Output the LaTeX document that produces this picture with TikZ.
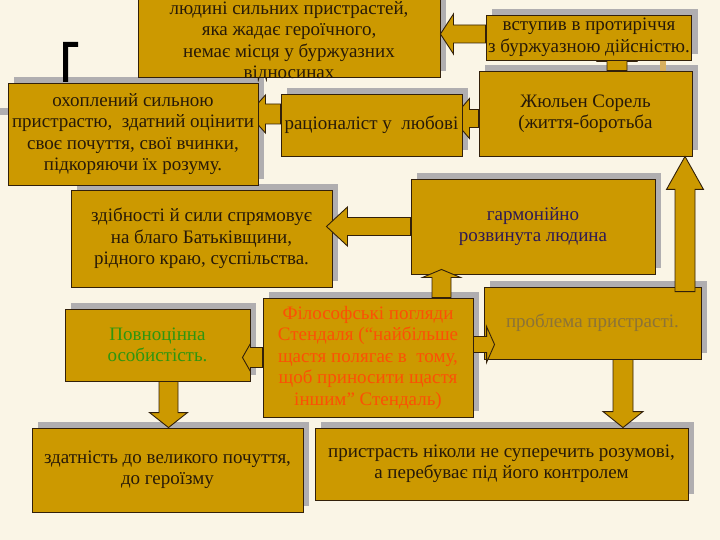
\documentclass[tikz,border=0pt]{standalone}
\usepackage{fontspec}
\setmainfont{Liberation Serif}
\usetikzlibrary{calc}
\definecolor{paper}{RGB}{250,245,230}
\definecolor{gold}{RGB}{204,153,0}
\definecolor{edge}{RGB}{50,32,10}
\definecolor{shade}{RGB}{176,174,176}
\definecolor{ink}{RGB}{40,26,8}
\definecolor{inkgreen}{RGB}{45,150,15}
\definecolor{inkorange}{RGB}{252,80,5}
\definecolor{inkmuted}{RGB}{140,115,55}
\definecolor{inkviolet}{RGB}{45,25,85}
\definecolor{tan}{RGB}{215,175,95}
\pgfdeclarelayer{shadowlayer}
\pgfdeclarelayer{underlayer}
\pgfsetlayers{shadowlayer,underlayer,main}
\tikzset{
  sorelfont/.style={font=\fontsize{19}{21.5}\selectfont},
  sorelbox/.style={draw=edge, fill=gold, line width=0.9pt, align=center, inner sep=2pt, text=ink, sorelfont},
  sorelshadow/.style={fill=shade},
  sorelarrow/.style={draw=edge, fill=gold, line width=0.9pt, line join=miter}
}
% block arrow: [options]{tail}{tip}{half shaft}{half head}{head length}
\newcommand{\blockarrow}[6][]{%
  \path ($(#3)!#6!(#2)$) coordinate (hb);
  \draw[sorelarrow,#1] ($(#2)!#4!90:(#3)$) -- ($(hb)!#4!90:(#3)$) -- ($(hb)!#5!90:(#3)$) -- (#3)
    -- ($(hb)!#5!-90:(#3)$) -- ($(hb)!#4!-90:(#3)$) -- ($(#2)!#4!-90:(#3)$) -- cycle;}
\begin{document}
\begin{tikzpicture}[x=1pt,y=-1pt]
\useasboundingbox (0,0) rectangle (720,540);

% boxes
\node[sorelbox, minimum width=302pt, minimum height=82pt,
  label={[align=center, sorelfont, text=ink, yshift=-6pt]center:{людині сильних пристрастей,\\яка жадає героїчного,\\немає місця у буржуазних\\відносинах}}] (top) at (289,36) {};
\node[sorelbox, minimum width=198pt, minimum height=45pt] (vstup) at (589,37.5) {вступив в протиріччя\\з буржуазною дійсністю.};
\node[sorelbox, minimum width=213pt, minimum height=85pt] (zhul) at (585.5,113.5) {Жюльен Сорель\\(життя-боротьба};
\node[sorelbox, minimum width=250pt, minimum height=102pt] (ohopl) at (133,134) {охоплений сильною\\пристрастю,\ \ здатний оцінити\\своє почуття, свої вчинки,\\підкоряючи їх розуму.};
\node[sorelbox, minimum width=181pt, minimum height=62pt] (rats) at (371.5,125) {раціоналіст у\ \ любові};
\node[sorelbox, minimum width=261pt, minimum height=97pt] (zdib) at (201.5,238.5) {здібності й сили спрямовує\\на благо Батьківщини,\\рідного краю, суспільства.};
\node[sorelbox, minimum width=244pt, minimum height=95pt, text=inkviolet] (harm) at (533,226.5) {гармонійно\\розвинута людина};
\node[sorelbox, minimum width=185pt, minimum height=72pt, text=inkgreen] (povn) at (157.5,345) {Повноцінна\\особистість.};
\node[sorelbox, minimum width=210pt, minimum height=119pt, text=inkorange] (filos) at (368,357.5) {Філософські погляди\\Стендаля (“найбільше\\щастя полягає в\ \ тому,\\щоб приносити щастя\\іншим” Стендаль)};
\node[sorelbox, minimum width=217pt, minimum height=72pt, text=inkmuted] (probl) at (592.5,323) {проблема пристрасті.};
\node[sorelbox, minimum width=271pt, minimum height=84pt] (zdat) at (167.5,470) {здатність до великого почуття,\\до героїзму};
\node[sorelbox, minimum width=373pt, minimum height=72pt] (prystr) at (501.5,464) {пристрасть ніколи не суперечить розумові,\\а перебуває під його контролем};

% paper and shadows
\begin{pgfonlayer}{shadowlayer}
\fill[paper] (0,0) rectangle (720,540);
\foreach \n in {top,vstup,zhul,ohopl,rats,zdib,harm,povn,filos,probl,zdat,prystr}
  \fill[sorelshadow] ([shift={(6pt,6pt)}]\n.south west) rectangle ([shift={(6pt,6pt)}]\n.north east);
\fill[sorelshadow] (0,108) rectangle (8,115);
\end{pgfonlayer}

% arrows hidden under the boxes
\begin{pgfonlayer}{underlayer}
\fill[black] (63,82) -- (63,42) -- (78,42) -- (78,47) -- (68,47) -- (68,82) -- cycle;
\fill[tan] (660,60) rectangle (666,71);
\coordinate (b0) at ([xshift=31.5pt]zhul.north);
\coordinate (b1) at (b0 |- vstup.center);
\blockarrow{b0}{b1}{10pt}{20pt}{24pt}
\coordinate (c0) at ([yshift=-5pt]zhul.west);
\coordinate (c1) at ([xshift=-10pt]c0 -| rats.east);
\blockarrow{c0}{c1}{9pt}{20pt}{17pt}
\coordinate (d0) at ([yshift=11pt]rats.west);
\coordinate (d1) at ([xshift=-10pt]d0 -| ohopl.east);
\blockarrow{d0}{d1}{10pt}{19pt}{17pt}
\end{pgfonlayer}

% arrows on top
\coordinate (a0) at ([yshift=3.5pt]vstup.west);
\coordinate (a1) at (a0 -| top.east);
\blockarrow{a0}{a1}{9pt}{20pt}{13pt}
\coordinate (e0) at (harm.west);
\coordinate (e1) at ([xshift=-6pt]e0 -| zdib.east);
\blockarrow{e0}{e1}{9pt}{19.5pt}{21pt}
\coordinate (f0) at ([xshift=73.5pt]filos.north);
\coordinate (f1) at ([yshift=5pt]f0 |- harm.south);
\blockarrow{f0}{f1}{9.5pt}{19pt}{8pt}
\coordinate (g0) at (filos.west);
\coordinate (g1) at ([xshift=-8pt]g0 -| povn.east);
\blockarrow{g0}{g1}{10pt}{14pt}{8pt}
\coordinate (h0) at ([yshift=13pt]filos.east);
\coordinate (h1) at ([xshift=11pt]h0 -| probl.west);
\blockarrow{h0}{h1}{8pt}{18pt}{8pt}
\coordinate (i0) at ([shift={(92.5pt,-5pt)}]probl.north);
\coordinate (i1) at (i0 |- zhul.south);
\blockarrow{i0}{i1}{10pt}{18.5pt}{33pt}
\coordinate (j0) at ([xshift=30.5pt]probl.south);
\coordinate (j1) at (j0 |- prystr.north);
\blockarrow{j0}{j1}{10pt}{20pt}{16pt}
\coordinate (k0) at ([xshift=11pt]povn.south);
\coordinate (k1) at (k0 |- zdat.north);
\blockarrow{k0}{k1}{9.5pt}{19pt}{15pt}
\end{tikzpicture}
\end{document}
